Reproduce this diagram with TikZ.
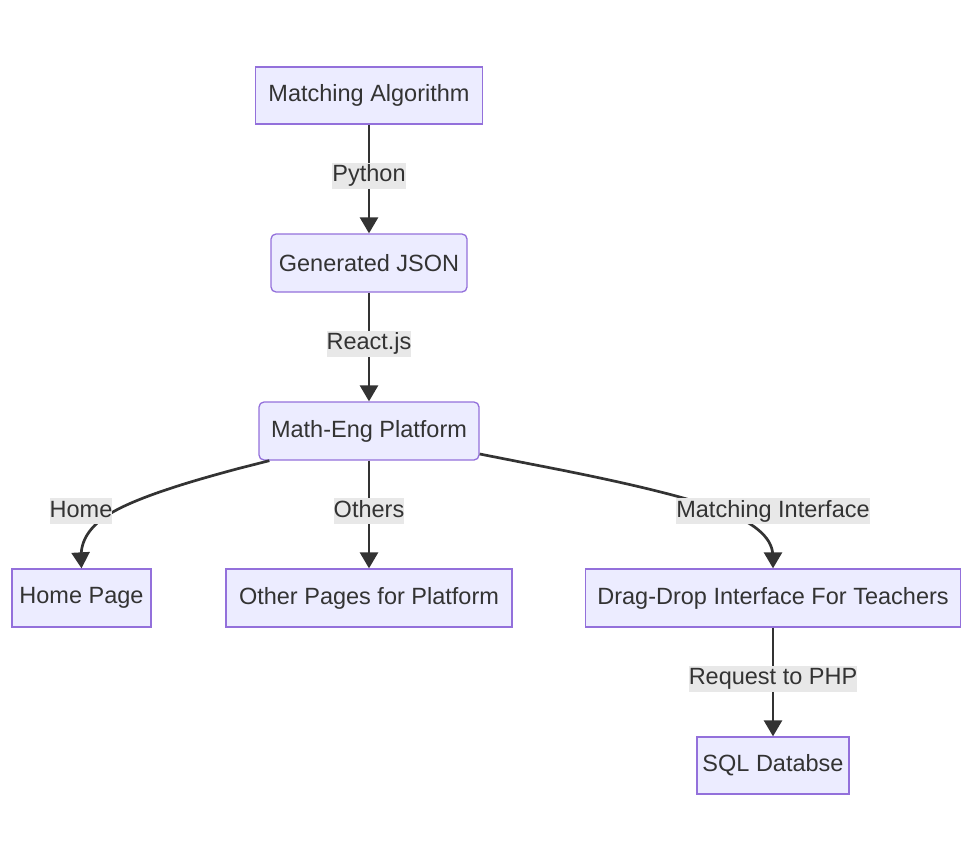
\documentclass[tikz,border=0pt]{standalone}
\usepackage{fontspec}
\setmainfont{Liberation Sans}
\usetikzlibrary{arrows.meta}
\definecolor{mfill}{HTML}{ECECFF}
\definecolor{mline}{HTML}{9370DB}
\definecolor{mdark}{HTML}{333333}
\definecolor{mlabel}{HTML}{E8E8E8}
\tikzset{
  every picture/.style={font=\fontsize{23.5}{28}\selectfont, text=mdark},
  block/.style={draw=mline, fill=mfill, line width=1.3pt, minimum height=57pt, inner sep=0pt, align=center},
  rblock/.style={block, rounded corners=5pt},
  flow/.style={draw=mdark, line width=2.7pt, -{Triangle[length=16pt, width=18pt]}},
  tag/.style={fill=mlabel, inner xsep=0pt, inner ysep=2pt, text height=17pt, text depth=5pt},
}

\begin{document}
\begin{tikzpicture}[x=1pt, y=-1pt]
  \useasboundingbox (0,0) rectangle (972,862);
  % main chain
  \node[block, minimum width=227pt] (algo) at (369,95.5) {Matching Algorithm};
  \node[rblock, minimum width=196pt, minimum height=58pt] (json) at (369,263) {Generated JSON};
  \node[rblock, minimum width=220pt, minimum height=58pt] (plat) at (369,431) {Math-Eng Platform};
  % pages of the platform
  \node[block, minimum width=139pt, minimum height=58pt] (home) at (81.5,598) {Home Page};
  \node[block, minimum width=286pt, minimum height=58pt] (other) at (369,598) {Other Pages for Platform};
  \node[block, minimum width=375pt, minimum height=58pt] (drag) at (773,598) {Drag-Drop Interface For Teachers};
  \node[block, minimum width=152pt] (sql) at (773,765.5) {SQL Databse};
  % connectors
  \draw[flow] (algo) -- node[tag, pos=0.47] {Python} (json);
  \draw[flow] (json) -- node[tag, pos=0.47] {React.js} (plat);
  \draw[flow] (plat) -- node[tag, pos=0.47] {Others} (other);
  \draw[flow] (drag) -- node[tag, pos=0.47] {Request to PHP} (sql);
  \draw[flow] ([xshift=11pt]plat.south west) -- (238.5,468.5)
    .. controls (207,477) and (144,494) .. (112.5,512.2)
    .. controls (81,530.3) and (81,549.7) .. (81,559.3) -- (home.north);
  \draw[flow] ([yshift=-23pt]plat.east) -- (528,463.5)
    .. controls (577,473) and (675,492) .. (724,511.2)
    .. controls (773,530.3) and (773,549.7) .. (773,559.3) -- (drag.north);
  \node[tag] (homelbl) at (81,511) {Home};
  \node[tag] (draglbl) at (773,511) {Matching Interface};
\end{tikzpicture}
\end{document}
